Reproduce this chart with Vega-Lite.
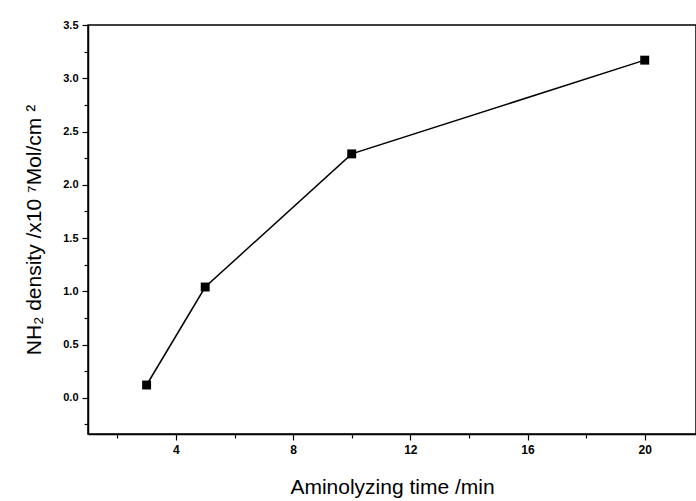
{
  "$schema": "https://vega.github.io/schema/vega-lite/v6.json",
  "autosize": "none",
  "width": 608,
  "height": 409,
  "padding": {"left": 88, "top": 25, "right": 0, "bottom": 67},
  "background": "white",
  "config": {
    "view": {"stroke": "black", "strokeWidth": 1.5},
    "axis": {"grid": false, "domainColor": "black", "tickColor": "black", "labelColor": "black", "titleColor": "black", "labelFont": "Liberation Sans", "titleFont": "Liberation Sans", "domainWidth": 1.5, "tickWidth": 1.2}
  },
  "data": {"values": [
    {"time": 3, "density": 0.12},
    {"time": 5, "density": 1.04},
    {"time": 10, "density": 2.29},
    {"time": 20, "density": 3.17}
  ]},
  "encoding": {
    "x": {"field": "time", "type": "quantitative", "scale": {"domain": [1, 21.75], "nice": false, "zero": false},
      "axis": {"title": "Aminolyzing time /min", "values": [2,4,6,8,10,12,14,16,18,20],
        "labelExpr": "datum.value % 4 == 0 ? datum.label : ''",
        "tickSize": {"condition": {"test": "datum.value % 4 == 0", "value": 6}, "value": 4},
        "labelFontSize": 12, "labelFontWeight": "bold", "labelPadding": 4,
        "titleFontSize": 21, "titleFontWeight": "normal", "titlePadding": 21}},
    "y": {"field": "density", "type": "quantitative", "scale": {"domain": [-0.34, 3.5], "nice": false, "zero": false},
      "axis": {"title": "NH₂ density /x10 ⁷Mol/cm ²", "values": [-0.25,0,0.25,0.5,0.75,1,1.25,1.5,1.75,2,2.25,2.5,2.75,3,3.25,3.5],
        "labelExpr": "(round(datum.value*100) % 50 == 0) ? format(datum.value, '.1f') : ''",
        "tickSize": {"condition": {"test": "round(datum.value*100) % 50 == 0", "value": 6}, "value": 4},
        "labelFontSize": 11, "labelFontWeight": "bold", "labelPadding": 4,
        "titleFontSize": 21, "titleFontWeight": "normal", "titlePadding": 18}}
  },
  "layer": [
    {"mark": {"type": "line", "color": "black", "strokeWidth": 1.5}},
    {"mark": {"type": "square", "color": "black", "filled": true, "opacity": 1, "size": 80}}
  ]
}
